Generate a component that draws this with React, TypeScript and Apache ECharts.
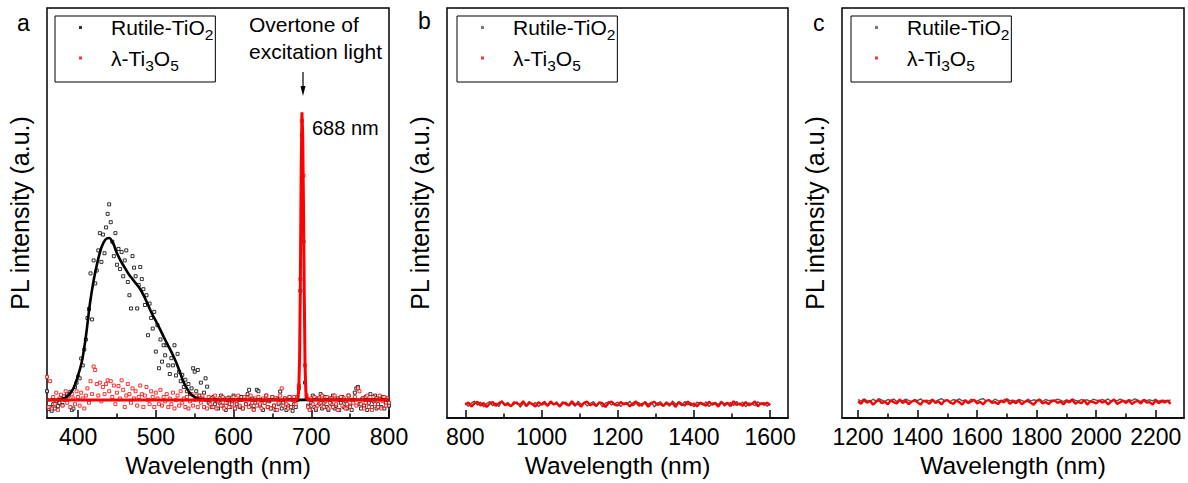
import React, { useEffect, useRef } from 'react';
import * as echarts from 'echarts';

const RUTILE = 'Rutile-TiO2';
const TI3O5 = 'λ-Ti3O5';

// ---------- Panel a (360–800 nm, 2 nm grid) ----------
const aStart = 360;
const aStep = 2;
const aRutile = [
  3.0, -3.2, -2.5, -3.8, -1.5, -3.0, -0.5, -2.2, -1.0, 0.5, -1.8, 1.2, 0.2, 2.0, 1.5, 2.8, -3.5, -3.0, 4.5, 6.0,
  8.0, 7.5, 14.4, 12.0, 17.5, 21.0, 28.5, 31.6, 44.0, 28.0, 48.5, 40.5, 45.0, 52.0, 58.0, 48.0, 57.5, 51.0, 60.0, 64.7,
  68.0, 61.8, 55.0, 50.0, 58.0, 47.0, 52.5, 45.5, 51.4, 43.0, 48.5, 52.0, 41.0, 36.4, 31.8, 50.0, 46.0, 43.0, 31.8, 40.0,
  46.2, 42.0, 38.5, 33.0, 36.4, 22.5, 33.5, 28.5, 24.8, 30.6, 16.8, 26.0, 11.0, 21.0, 13.3, 19.0, 15.5, 19.0, 12.0, 9.0,
  14.5, 12.0, 19.0, 8.5, 16.0, 9.8, 6.5, 8.7, 4.5, 7.0, 3.0, 5.5, 2.0, 4.0, 11.0, 9.8, 3.0, 10.4, 1.5, 6.0,
  0.5, 2.5, 7.5, 4.6, -1.0, 0.5, -2.5, 1.0, -1.5, 0.0, -3.0, -1.0, 1.5, -2.0, 0.5, -3.5, -1.0, 0.8, -2.5, -0.5,
  1.5, -3.0, -1.5, 0.0, -2.5, 1.0, -3.0, 0.5, -1.5, 2.0, 3.5, -2.0, 0.5, -3.2, -1.0, 3.5, 3.0, -2.0, 0.0, -3.5,
  -1.0, 1.5, -2.5, -0.5, -3.0, 1.0, -2.0, -3.5, 0.5, -1.5, 2.9, -3.0, -1.0, 0.5, -3.5, -2.0, 1.0, -2.5, -3.8, -1.5,
  -2.5, 0.0, 4.0, 38.0, 92.0, 55.0, 6.0, 0.5, -2.0, -3.0, -1.0, 1.5, -2.5, -3.5, 0.5, -1.5, 2.0, -3.0, -1.0, 1.0,
  -2.5, -3.5, 0.5, -1.5, 1.5, -3.0, -2.0, 0.5, -3.5, -1.0, 1.0, -2.5, -0.5, -3.0, 1.5, -2.0, -3.5, 0.0, 2.5, 4.0,
  4.5, -1.5, -3.0, 0.5, -2.0, 1.0, -3.5, -1.0, 2.0, -2.5, -0.5, 1.5, -3.0, -1.5, 0.5, -2.5, 1.0, -3.0, -1.0, 0.5, -2.0,
];
const aTi3O5 = [
  8.0, -2.5, 6.5, -3.0, 1.0, -1.5, 2.5, -3.5, 0.5, 1.8, -2.0, 0.0, 3.0, -1.0, 1.5, -2.5, 2.0, 0.5, -1.5, 3.0,
  1.0, -2.0, 2.5, 0.5, -3.0, 1.5, 4.0, -1.0, 6.5, 2.0, 11.6, 10.4, 5.5, 1.5, 6.0, -0.5, 4.5, 2.0, 5.5, 6.8,
  3.0, 6.5, 1.0, 5.0, -1.5, 2.5, 4.8, 0.5, 6.8, 3.5, -2.5, 1.5, 5.5, 2.0, -1.0, 4.0, 0.5, 3.0, -2.0, 1.0,
  5.0, 2.0, -2.5, 1.5, 4.5, 0.0, -1.5, 3.0, 1.0, -2.5, 2.5, 0.5, -1.5, 3.5, -2.0, 1.0, -0.5, 2.0, -2.5, 0.5,
  -1.5, 2.5, -3.0, 0.0, 1.5, -2.0, 3.0, -1.0, 0.5, -2.5, 1.0, -3.0, -0.5, 2.0, -2.0, 0.0, 1.5, -2.5, 0.5, -1.0,
  1.5, -2.5, 0.0, -3.0, 1.0, -1.5, 0.5, -2.5, 1.5, -3.0, -0.5, 0.5, -2.0, 1.0, -3.0, -1.0, 0.5, -2.5, 0.0, -1.5,
  1.0, -3.0, -0.5, 1.5, -2.0, 0.0, -3.0, 1.0, -1.5, 0.5, -2.5, 1.5, -1.0, -3.5, 0.5, -2.0, 1.0, -1.5, -3.0, 0.5,
  -1.0, 1.5, -2.5, 0.0, -3.0, 1.0, -2.0, 0.5, -3.5, -1.0, 1.5, 4.0, -2.0, 0.5, -1.5, -3.0, 1.0, -2.5, 0.0, 1.0,
  -1.5, 1.0, 5.0, 42.0, 97.0, 78.0, 12.0, 1.5, -2.5, -3.5, 0.5, -1.5, 1.0, -3.0, -2.0, 0.5, -1.0, 1.5, -2.5, -0.5,
  1.0, -3.0, -1.0, 0.5, -2.5, 1.5, -1.5, -3.5, 0.0, 1.0, -2.0, 0.5, -3.0, -1.5, 1.5, -2.5, 0.0, -1.0, 1.0, -2.0,
  4.0, 3.0, -1.5, 0.5, -3.0, -1.0, 1.5, -2.5, 0.0, -3.5, 1.0, -1.5, 0.5, -2.5, 1.5, -3.0, -0.5, 1.0, -2.0, 0.5, -1.0,
];
const aRutileFitX = [
  360, 365, 370, 375, 380, 385, 390, 395, 400, 405, 410, 415, 420, 425, 430, 435, 440, 445, 450, 455,
  460, 465, 470, 475, 480, 485, 490, 495, 500, 505, 510, 515, 520, 525, 530, 535, 540, 545, 550, 555,
  560, 565, 570, 600, 650, 700, 750, 800,
];
const aRutileFitY = [
  0, 0, 0, 0.1, 0.3, 1, 2.3, 4.6, 8.5, 13.5, 22, 33, 41.5, 48, 53, 55.7, 56.3, 54.5, 51, 48.3,
  46, 43.8, 42, 40.3, 38.5, 36, 33, 30, 27.5, 24.8, 22, 19.3, 16.7, 13.8, 10.4, 6.6, 4, 2, 1, 0.4,
  0.1, 0, 0, 0, 0, 0, 0, 0,
];
const aTi3O5FitX = [360, 680, 682, 683, 684, 685, 686, 687, 688, 689, 690, 691, 692, 693, 694, 696, 800];
const aTi3O5FitY = [0, 0, 0.2, 1, 4, 15, 42, 80, 100, 92, 68, 36, 12, 3, 0.5, 0, 0];
const aMajor = [400, 500, 600, 700, 800];
const aMinor = [450, 550, 650, 750];

// ---------- Panel b (800–1600 nm, 8 nm grid) ----------
const bStart = 800;
const bStep = 8;
const bRutile = [
  0.5, -0.8, 0.3, 1.0, -0.4, 0.7, -1.0, 0.2, 0.9, -0.6, 0.4, -0.9, 1.1, -0.2, 0.6, -0.7, 0.0, 0.8, -1.1, 0.3,
  -0.5, 0.9, -0.3, 0.6, -0.9, 0.2, 1.0, -0.6, 0.4, -0.2, 0.8, -1.0, 0.1, 0.7, -0.5, 0.3, -0.8, 1.0, -0.1, 0.5,
  -0.7, 0.2, 0.9, -0.4, 0.6, -1.0, 0.3, 0.8, -0.3, 0.1, 0.7, -0.9, 0.4, -0.2, 1.0, -0.6, 0.2, 0.5, -0.8, 0.9,
  -0.1, 0.6, -1.0, 0.3, 0.8, -0.5, 0.1, -0.7, 1.1, 0.0, 0.4, -0.6, 0.9, -0.3, 0.5, -1.0, 0.7, 0.2, -0.4, 0.8,
  -0.9, 0.3, 0.6, -0.2, 1.0, -0.7, 0.1, 0.5, -0.5, 0.9, -0.3, 0.7, -1.0, 0.4, 0.2, -0.6, 0.8, -0.1, 0.6, -0.8,
  0.3,
];
const bTi3O5 = [
  -0.3, 0.6, -0.9, 0.2, 0.8, -0.5, 0.4, -1.0, 0.1, 0.7, -0.6, 0.3, 0.9, -0.4, 0.0, -0.8, 0.6, 0.2, -0.3, 1.0,
  -0.7, 0.4, 0.1, -0.9, 0.7, -0.2, 0.5, -0.6, 0.9, -0.1, 0.3, -0.8, 0.6, 0.0, -0.5, 1.0, -0.3, 0.2, -0.9, 0.5,
  0.8, -0.4, 0.1, -0.7, 0.6, 0.3, -1.0, 0.4, 0.9, -0.2, -0.5, 0.7, -0.1, 0.4, -0.8, 0.2, 0.9, -0.6, 0.0, 0.5,
  -0.9, 0.3, 0.8, -0.3, 0.1, -0.7, 0.6, -0.2, 0.4, -1.0, 0.7, 0.0, -0.5, 0.9, -0.4, 0.2, -0.8, 0.5, 0.1, -0.6,
  0.8, -0.2, 0.3, -0.9, 0.6, -0.1, 0.4, -0.7, 1.0, -0.3, 0.2, -0.6, 0.7, -0.4, 0.0, 0.9, -0.8, 0.3, -0.2, 0.5,
  -0.4,
];
const bMajor = [800, 1000, 1200, 1400, 1600];
const bMinor = [900, 1100, 1300, 1500];

// ---------- Panel c (1200–2250 nm, 10 nm grid) ----------
const cStart = 1200;
const cStep = 10;
const cRutile = [
  0.9, 0.3, 1.1, 0.5, 0.1, 1.0, 0.4, 1.2, 0.7, 0.2, 0.9, 0.5, 1.1, 0.2, 0.8, 0.4, 1.0, 0.6, 0.1, 0.9,
  0.5, 1.1, 0.3, 0.7, 0.4, 1.0, 0.2, 0.8, 1.2, 0.5, 0.7, 0.2, 0.9, 0.5, 1.1, 0.4, 0.8, 0.1, 1.0, 0.6,
  0.3, 0.9, 1.2, 0.4, 0.7, 0.2, 1.0, 0.5, 0.2, 0.8, 1.1, 0.5, 0.7, 0.3, 0.9, 0.6, 0.1, 1.0, 0.4, 0.8,
  0.5, 1.1, 0.2, 0.9, 0.5, 0.7, 0.4, 1.0, 0.7, 0.2, 0.8, 0.4, 1.1, 0.6, 0.3, 0.9, 0.5, 0.8, 0.2, 1.0,
  0.7, 0.4, 0.9, 0.5, 1.1, 0.2, 0.7, 0.4, 1.0, 0.6, 0.3, 0.8, 0.5, 1.1, 0.7, 0.2, 0.9, 0.5, 0.8, 0.4,
  1.0, 0.3, 0.7, 0.6, 0.4, 0.8,
];
const cTi3O5 = [
  0.3, -0.6, 0.8, -0.2, 0.5, -0.9, 0.1, 0.7, -0.4, 0.2, -0.8, 0.6, 0.0, -0.5, 0.9, -0.3, 0.4, -0.7, 0.2, 0.6,
  -0.1, -0.9, 0.5, 0.1, -0.6, 0.8, -0.3, 0.3, -0.8, 0.4, 0.7, -0.2, -0.6, 0.5, 0.0, -0.9, 0.6, -0.4, 0.2, 0.8,
  -0.5, 0.1, -0.8, 0.4, 0.7, -0.3, 0.0, -0.7, 0.5, -0.1, 0.9, -0.6, 0.3, -0.4, 0.6, -0.8, 0.1, 0.5, -0.2, -0.9,
  0.4, 0.7, -0.5, 0.0, -0.7, 0.3, 0.6, -0.3, 0.2, -0.8, 0.5, -0.1, 0.8, -0.6, 0.1, -0.4, 0.7, -0.9, 0.3, 0.0,
  -0.5, 0.6, -0.2, 0.4, -0.8, 0.2, 0.9, -0.6, -0.1, 0.5, -0.3, 0.7, -0.7, 0.1, 0.4, -0.5, 0.8, -0.2, 0.0, -0.9,
  0.6, -0.4, 0.3, -0.1, 0.5, -0.6,
];
const cMajor = [1200, 1400, 1600, 1800, 2000, 2200];
const cMinor = [1300, 1500, 1700, 1900, 2100];

const FONT = 'Arial';

const toPairs = (start: number, step: number, vals: number[]) => vals.map((v, i) => [start + i * step, v]);
const zip = (xs: number[], ys: number[]) => xs.map((x, i) => [x, ys[i]]);

const grids = [
  { left: 47, top: 8, width: 342, height: 412 },
  { left: 447, top: 8, width: 341, height: 412 },
  { left: 842, top: 8, width: 342, height: 412 },
];
const xRanges = [
  [360, 800],
  [752, 1647],
  [1146, 2295],
];
const yRanges = [
  [-6.3, 136.3],
  [-4.85, 137.9],
  [-5.54, 137.2],
];
const majors = [aMajor, bMajor, cMajor];
const minors = [aMinor, bMinor, cMinor];
const legendLeft = [55, 457, 851];

function buildOption() {
  const xAxis: any[] = [];
  const yAxis: any[] = [];
  grids.forEach((g, i) => {
    xAxis.push({
      type: 'value',
      gridIndex: i,
      position: 'bottom',
      min: xRanges[i][0],
      max: xRanges[i][1],
      name: 'Wavelength (nm)',
      nameLocation: 'middle',
      nameGap: 35,
      nameTextStyle: { fontSize: 24.5, color: '#000', fontFamily: FONT },
      axisLine: { show: true, onZero: false, lineStyle: { color: '#000', width: 1.5 } },
      axisTick: { show: true, inside: true, length: 8, customValues: majors[i], lineStyle: { color: '#000', width: 1.5 } },
      axisLabel: {
        show: true, customValues: majors[i], fontSize: 23, color: '#000', margin: 7, fontFamily: FONT,
        formatter: (v: number) => String(v),
      },
      splitLine: { show: false },
    });
    xAxis.push({
      type: 'value',
      gridIndex: i,
      position: 'bottom',
      min: xRanges[i][0],
      max: xRanges[i][1],
      axisLine: { show: false, onZero: false },
      axisTick: { show: true, inside: true, length: 4.5, customValues: minors[i], lineStyle: { color: '#000', width: 1.5 } },
      axisLabel: { show: false },
      splitLine: { show: false },
    });
    yAxis.push({
      type: 'value',
      gridIndex: i,
      min: yRanges[i][0],
      max: yRanges[i][1],
      name: 'PL intensity (a.u.)',
      nameLocation: 'middle',
      nameGap: 15,
      nameTextStyle: { fontSize: 25, color: '#000', fontFamily: FONT },
      axisLine: { show: false },
      axisTick: { show: false },
      axisLabel: { show: false },
      splitLine: { show: false },
    });
  });

  const hollow = (color: string) => ({ color: '#fff', borderColor: color, borderWidth: 1 });

  const series: any[] = [
    {
      name: RUTILE, type: 'scatter', xAxisIndex: 0, yAxisIndex: 0,
      data: toPairs(aStart, aStep, aRutile), symbol: 'rect', symbolSize: 3, itemStyle: hollow('#000'), z: 2,
    },
    {
      name: TI3O5, type: 'scatter', xAxisIndex: 0, yAxisIndex: 0,
      data: toPairs(aStart, aStep, aTi3O5), symbol: 'rect', symbolSize: 3, itemStyle: hollow('#ff0000'), z: 3,
    },
    {
      name: 'Rutile fit', type: 'line', xAxisIndex: 0, yAxisIndex: 0, data: zip(aRutileFitX, aRutileFitY),
      showSymbol: false, smooth: 0.3, lineStyle: { color: '#000', width: 2.6 }, z: 4,
    },
    {
      name: 'Ti3O5 fit', type: 'line', xAxisIndex: 0, yAxisIndex: 0, data: zip(aTi3O5FitX, aTi3O5FitY),
      showSymbol: false, lineStyle: { color: '#ff0000', width: 3 }, z: 5,
    },
    {
      name: RUTILE, type: 'line', xAxisIndex: 2, yAxisIndex: 1, data: toPairs(bStart, bStep, bRutile),
      showSymbol: false, lineStyle: { color: '#555', width: 1.4 }, itemStyle: { color: '#555' }, z: 2,
    },
    {
      name: TI3O5, type: 'line', xAxisIndex: 2, yAxisIndex: 1, data: toPairs(bStart, bStep, bTi3O5),
      showSymbol: false, lineStyle: { color: '#ff0000', width: 2.4 }, itemStyle: { color: '#ff0000' }, z: 3,
    },
    {
      name: RUTILE, type: 'line', xAxisIndex: 4, yAxisIndex: 2, data: toPairs(cStart, cStep, cRutile),
      showSymbol: false, lineStyle: { color: '#555', width: 1.4 }, itemStyle: { color: '#555' }, z: 2,
    },
    {
      name: TI3O5, type: 'line', xAxisIndex: 4, yAxisIndex: 2, data: toPairs(cStart, cStep, cTi3O5),
      showSymbol: false, lineStyle: { color: '#ff0000', width: 2.4 }, itemStyle: { color: '#ff0000' }, z: 3,
    },
  ];

  const rich = {
    sp: { width: 24, fontSize: 21, lineHeight: 30 },
    m: { fontSize: 21, lineHeight: 30, color: '#000', fontFamily: FONT },
    s: { fontSize: 15.5, verticalAlign: 'bottom', color: '#000', fontFamily: FONT },
  };

  const legend = legendLeft.map((left, i) => ({
    left,
    top: 16,
    orient: 'vertical',
    padding: [1, 2, 9, 24],
    itemGap: 5,
    itemWidth: 3,
    itemHeight: 3,
    icon: 'rect',
    borderColor: '#000',
    borderWidth: 1,
    selectedMode: false,
    data: [
      { name: RUTILE, itemStyle: { color: i === 0 ? '#000' : '#555', borderWidth: 0 } },
      { name: TI3O5, itemStyle: { color: '#ff0000', borderWidth: 0 } },
    ],
    formatter: (name: string) =>
      name === RUTILE ? '{sp| }{m|Rutile-TiO}{s|2}' : '{sp| }{m|λ-Ti}{s|3}{m|O}{s|5}',
    textStyle: { rich, fontFamily: FONT },
  }));

  const graphic: any[] = [
    { type: 'text', left: 17, top: 11, style: { text: 'a', fontSize: 23, fill: '#000', fontFamily: FONT } },
    { type: 'text', left: 418, top: 9, style: { text: 'b', fontSize: 23, fill: '#000', fontFamily: FONT } },
    { type: 'text', left: 813, top: 11, style: { text: 'c', fontSize: 23, fill: '#000', fontFamily: FONT } },
    {
      type: 'text', left: 249, top: 11,
      style: { text: 'Overtone of\nexcitation light', fontSize: 21, lineHeight: 27, fill: '#000', fontFamily: FONT },
    },
    { type: 'line', shape: { x1: 303, y1: 72, x2: 303, y2: 90 }, style: { stroke: '#000', lineWidth: 1.2 } },
    { type: 'polygon', shape: { points: [[300.5, 86], [305.5, 86], [303, 96]] }, style: { fill: '#000' } },
    { type: 'text', left: 312, top: 118, style: { text: '688 nm', fontSize: 20, fill: '#000', fontFamily: FONT } },
  ];

  return {
    animation: false,
    backgroundColor: '#fff',
    textStyle: { fontFamily: FONT },
    grid: grids.map((g) => ({ ...g, show: true, borderColor: '#000', borderWidth: 1.5, backgroundColor: 'transparent' })),
    xAxis,
    yAxis,
    legend,
    series,
    graphic,
  };
}

export default function App() {
  const ref = useRef<HTMLDivElement>(null);
  useEffect(() => {
    if (!ref.current) return;
    const chart = echarts.init(ref.current, null, { renderer: 'svg' });
    chart.setOption(buildOption() as any);
    return () => chart.dispose();
  }, []);
  return <div ref={ref} style={{ position: 'absolute', left: 0, top: 0, width: 1188, height: 483 }} />;
}
